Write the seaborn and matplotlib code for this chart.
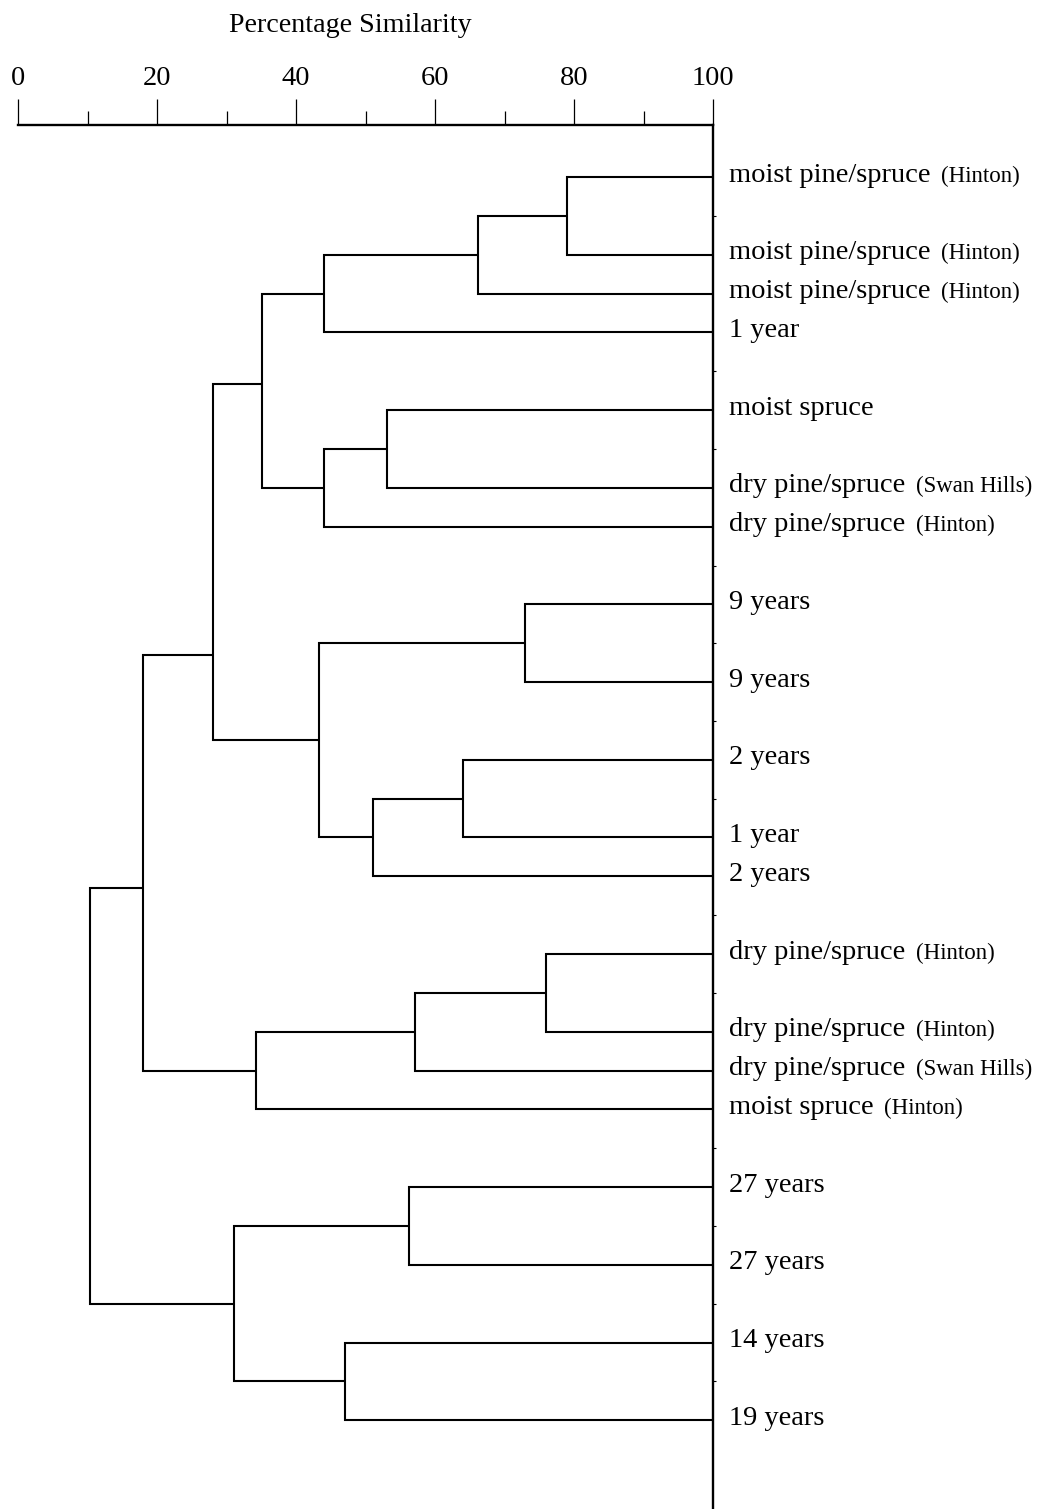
import numpy as np
import pandas as pd
import matplotlib
matplotlib.use("Agg")
import matplotlib.pyplot as plt
import seaborn as sns

# ---- data -------------------------------------------------------------
# Sites listed from top to bottom of the dendrogram
site_names = [
    "moist pine/spruce", "moist pine/spruce", "moist pine/spruce", "1 year",
    "moist spruce", "dry pine/spruce", "dry pine/spruce",
    "9 years", "9 years", "2 years", "1 year", "2 years",
    "dry pine/spruce", "dry pine/spruce", "dry pine/spruce", "moist spruce",
    "27 years", "27 years", "14 years", "19 years",
]
site_notes = [
    "(Hinton)", "(Hinton)", "(Hinton)", "",
    "", "(Swan Hills)", "(Hinton)",
    "", "", "", "", "",
    "(Hinton)", "(Hinton)", "(Swan Hills)", "(Hinton)",
    "", "", "", "",
]
# row slot of each leaf on the label column
leaf_rows = [0, 2, 3, 4, 6, 8, 9, 11, 13, 15, 17, 18, 20, 22, 23, 24, 26, 28, 30, 32]

# Agglomeration steps. Nodes 0-19 are the sites; step k creates node 20 + k.
merge_left = [0, 20, 21, 4, 23, 22, 7, 9, 27, 26, 25, 12, 31, 32, 30, 16, 18, 35, 34]
merge_right = [1, 2, 3, 5, 6, 24, 8, 10, 11, 28, 29, 13, 14, 15, 33, 17, 19, 36, 37]
merge_similarity = [79.0, 66.2, 44.0, 53.1, 44.0, 35.1, 72.9, 64.0, 51.1, 43.3,
                    28.1, 76.0, 57.1, 34.2, 18.0, 56.3, 47.1, 31.1, 10.4]

x_ticks = [0, 20, 40, 60, 80, 100]
x_minor_ticks = [10, 30, 50, 70, 90]

# ---- layout -----------------------------------------------------------
W, H, DPI = 1041, 1509, 100
ROW0_PX, ROW_PX = 177.0, 38.85          # pixel y of row 0 and row pitch
AX_LEFT_PX, AX_RIGHT_PX, AX_TOP_PX = 18.0, 713.0, 125.0
# a few branch stems sit off the centre of their bracket
stem_row_override = {25: 5.33, 30: 12.3, 34: 18.3}

sns.set_theme(style="white")
plt.rcParams["font.family"] = ["Liberation Serif", "DejaVu Serif"]
plt.rcParams["axes.edgecolor"] = "black"

# ---- build the bracket paths -----------------------------------------
n_leaves = len(site_names)
height = {i: 100.0 for i in range(n_leaves)}
stem = {i: float(r) for i, r in enumerate(leaf_rows)}
records = []
for k, (a, b, s) in enumerate(zip(merge_left, merge_right, merge_similarity)):
    node = n_leaves + k
    height[node] = s
    stem[node] = stem_row_override.get(node, (stem[a] + stem[b]) / 2.0)
    path = [(height[a], stem[a]), (s, stem[a]), (s, stem[b]), (height[b], stem[b])]
    for order, (x, y) in enumerate(path):
        records.append({"segment": node, "order": order, "similarity": x, "row": y})
branches = pd.DataFrame(records)

fig = plt.figure(figsize=(W / DPI, H / DPI), dpi=DPI)
ax = fig.add_axes([AX_LEFT_PX / W, 0.0, (AX_RIGHT_PX - AX_LEFT_PX) / W, 1 - AX_TOP_PX / H])

sns.lineplot(data=branches, x="similarity", y="row", units="segment",
             estimator=None, sort=False, color="black", linewidth=1.5, ax=ax)
for line in ax.get_lines():
    line.set_solid_joinstyle("miter")
    line.set_solid_capstyle("butt")

ax.set_xlim(0, 100)
row_top = (AX_TOP_PX - ROW0_PX) / ROW_PX
row_bottom = (H - ROW0_PX) / ROW_PX
ax.set_ylim(row_bottom, row_top)
ax.set_xlabel("")
ax.set_ylabel("")
ax.set_facecolor("white")

for side in ("left", "bottom"):
    ax.spines[side].set_visible(False)
for side in ("top", "right"):
    ax.spines[side].set_visible(True)
    ax.spines[side].set_linewidth(1.7)
    ax.spines[side].set_color("black")
    ax.spines[side].set_capstyle("projecting")

# similarity scale along the top
ax.xaxis.set_ticks_position("top")
ax.set_xticks(x_ticks)
ax.set_xticks(x_minor_ticks, minor=True)
ax.set_xticklabels([str(t) for t in x_ticks])
ax.tick_params(axis="x", which="both", direction="out", top=True, bottom=False,
               labeltop=True, labelbottom=False, color="black", width=0.9)
ax.tick_params(axis="x", which="major", length=18.7, pad=5.6, labelsize=20.5,
               labelcolor="black")
ax.tick_params(axis="x", which="minor", length=10)

# small marks on the right-hand line between occupied rows
free_rows = [r for r in range(1, 32) if r not in leaf_rows]
ax.yaxis.set_ticks_position("right")
ax.set_yticks(free_rows)
ax.tick_params(axis="y", which="major", direction="out", right=True, left=False,
               labelright=False, labelleft=False, length=2.0, width=0.8, color="black")

# site labels: main name followed by a smaller locality note
MAIN_PT, NOTE_PT = 20.5, 16.5
X_OFF, Y_OFF, GAP = 11.8, -3.3, 7.5
main_texts = []
for name, r in zip(site_names, leaf_rows):
    t = ax.annotate(name, xy=(100, r), xycoords="data", xytext=(X_OFF, Y_OFF),
                    textcoords="offset points", ha="left", va="baseline",
                    fontsize=MAIN_PT, color="black", annotation_clip=False)
    main_texts.append(t)

fig.canvas.draw()
renderer = fig.canvas.get_renderer()
for t, note, r in zip(main_texts, site_notes, leaf_rows):
    if not note:
        continue
    w_pt = t.get_window_extent(renderer).width * 72.0 / DPI
    ax.annotate(note, xy=(100, r), xycoords="data", xytext=(X_OFF + w_pt + GAP, Y_OFF),
                textcoords="offset points", ha="left", va="baseline",
                fontsize=NOTE_PT, color="black", annotation_clip=False)

fig.text(350 / W, 1 - 31.7 / H, "Percentage Similarity", ha="center",
         va="baseline", fontsize=20.2, color="black")

fig.savefig("out.png", dpi=DPI, facecolor="white")
